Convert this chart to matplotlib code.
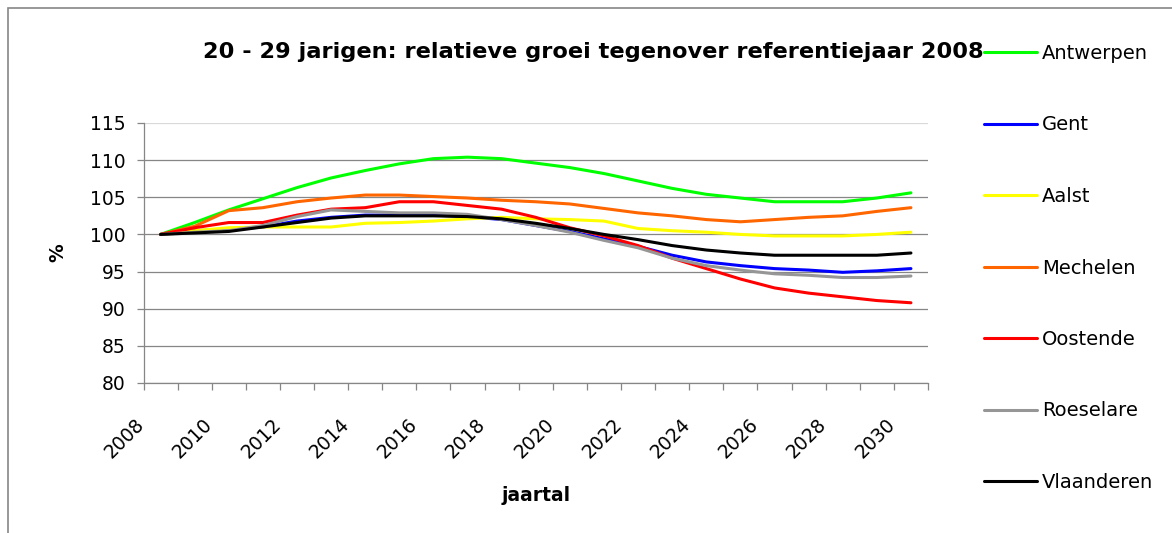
import matplotlib
matplotlib.use("Agg")
import matplotlib.pyplot as plt
import matplotlib.transforms as mtransforms
from matplotlib.patches import Rectangle
import numpy as np

plt.rcParams['font.family'] = ['DejaVu Sans']

years = list(range(2008, 2031))
antwerpen = [100.0, 101.6, 103.3, 104.8, 106.3, 107.6, 108.6, 109.5, 110.2, 110.4, 110.2, 109.6,
             109.0, 108.2, 107.2, 106.2, 105.4, 104.9, 104.4, 104.4, 104.4, 104.9, 105.6]
gent = [100.0, 100.5, 100.7, 101.0, 101.8, 102.3, 102.6, 102.6, 102.6, 102.4, 102.0, 101.2,
        100.4, 99.4, 98.4, 97.2, 96.3, 95.8, 95.4, 95.2, 94.9, 95.1, 95.4]
aalst = [100.0, 100.5, 100.9, 101.0, 101.0, 101.0, 101.5, 101.6, 101.8, 102.1, 102.3, 102.1,
         102.0, 101.8, 100.8, 100.5, 100.3, 100.0, 99.8, 99.8, 99.8, 100.0, 100.3]
mechelen = [100.0, 101.1, 103.2, 103.6, 104.4, 104.9, 105.3, 105.3, 105.1, 104.9, 104.6, 104.4,
            104.1, 103.5, 102.9, 102.5, 102.0, 101.7, 102.0, 102.3, 102.5, 103.1, 103.6]
oostende = [100.0, 100.9, 101.6, 101.6, 102.6, 103.4, 103.6, 104.4, 104.4, 103.9, 103.4, 102.3,
            100.9, 99.8, 98.5, 96.8, 95.4, 94.0, 92.8, 92.1, 91.6, 91.1, 90.8]
roeselare = [100.0, 100.3, 100.5, 101.2, 102.4, 103.3, 103.1, 102.9, 102.9, 102.7, 102.0, 101.2,
             100.3, 99.2, 98.2, 96.8, 95.8, 95.2, 94.7, 94.5, 94.2, 94.2, 94.4]
vlaanderen = [100.0, 100.2, 100.4, 101.0, 101.6, 102.2, 102.5, 102.5, 102.5, 102.4, 102.1, 101.5,
              100.8, 100.0, 99.3, 98.5, 97.9, 97.5, 97.2, 97.2, 97.2, 97.2, 97.5]

names = ['Antwerpen', 'Gent', 'Aalst', 'Mechelen', 'Oostende', 'Roeselare', 'Vlaanderen']
series = [antwerpen, gent, aalst, mechelen, oostende, roeselare, vlaanderen]
colors = ['#00ff00', '#0000ff', '#ffff00', '#ff6600', '#ff0000', '#969696', '#000000']

W, H = 1172, 533
fig = plt.figure(figsize=(W / 100, H / 100), dpi=100)
ax = fig.add_axes([143.5 / W, 1 - 383 / H, (928 - 143.5) / W, (383 - 123) / H])

x = np.arange(len(years))
for name, vals, c in zip(names, series, colors):
    ax.plot(x, vals, color=c, lw=2.2, label=name, solid_capstyle='round', solid_joinstyle='round')

# axes
ax.set_xlim(-0.5, len(years) - 0.5)
ax.set_ylim(80, 115)
ax.set_yticks(range(80, 116, 5))
grey = '#868686'
ax.grid(axis='y', color=grey, lw=0.9)
ax.get_ygridlines()[-1].set_color('#d9d9d9')
ax.set_axisbelow(True)
for s in ['top', 'right']:
    ax.spines[s].set_visible(False)
for s in ['left', 'bottom']:
    ax.spines[s].set_color(grey)
    ax.spines[s].set_linewidth(0.9)

ax.set_xticks(np.arange(len(years) + 1) - 0.5)
ax.set_xticklabels([])
ax.set_xticks(x[::2], minor=True)
ax.set_xticklabels([str(y) for y in years[::2]], minor=True, rotation=45,
                   ha='right', va='center', rotation_mode='anchor', fontsize=13.5)
ax.tick_params(axis='x', which='major', length=5, width=0.9, color=grey, direction='out')
ax.tick_params(axis='x', which='minor', length=0, pad=28)
ax.tick_params(axis='y', length=5, width=0.9, color=grey, labelsize=13.5, pad=8)
offset = mtransforms.ScaledTranslation(-0.19, 0, fig.dpi_scale_trans)
for lab in ax.get_xticklabels(minor=True):
    lab.set_transform(lab.get_transform() + offset)

ax.set_xlabel('jaartal', fontsize=13.5, fontweight='bold')
ax.xaxis.set_label_coords(0.5, -0.396)
ax.set_ylabel('%', fontsize=13.5, fontweight='bold')
ax.yaxis.set_label_coords(-0.0975, 0.5)

fig.text(0.506, 1 - 58 / H, '20 - 29 jarigen: relatieve groei tegenover referentiejaar 2008',
         ha='center', va='baseline', fontsize=16.2, fontweight='bold')

leg = ax.legend(loc='upper left', bbox_to_anchor=(983.5 / W, 1 - 44 / H),
                bbox_transform=fig.transFigure, frameon=False, fontsize=14,
                handlelength=2.73, handletextpad=0.28, labelspacing=2.7,
                borderpad=0, borderaxespad=0)

fig.add_artist(Rectangle((7.5 / W, -0.2), 1.5, 1 - 8 / H + 0.2, transform=fig.transFigure,
                         fill=False, edgecolor=grey, lw=1.2))

fig.savefig('out.png', dpi=100)
